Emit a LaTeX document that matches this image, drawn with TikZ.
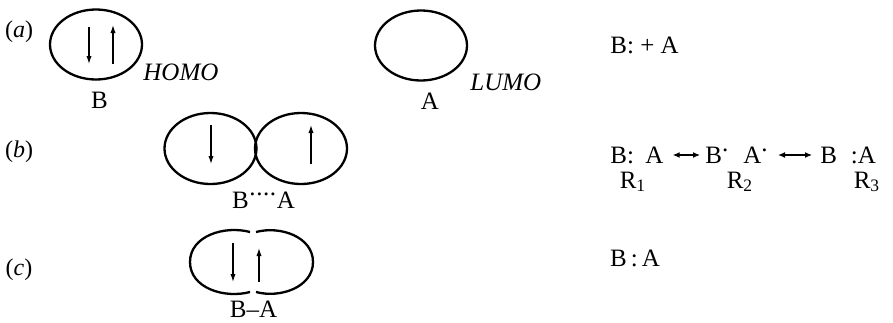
\documentclass[tikz,border=0pt]{standalone}
\usepackage{fontspec}
\setmainfont{Liberation Serif}
\usetikzlibrary{shapes.geometric,arrows.meta}
\begin{document}
\begin{tikzpicture}[x=0.5pt,y=-0.5pt,
  orb/.style={draw,ellipse,line width=1.15pt,minimum width=46pt,minimum height=35pt,inner sep=0},
  spin/.style={line width=0.6pt,-{Latex[length=4pt,width=2.6pt]}},
  txt/.style={font=\fontsize{12.5}{15}\selectfont,inner sep=0},
  lbl/.style={font=\fontsize{12}{14}\selectfont,inner sep=0},
  res/.style={line width=0.6pt,{Latex[length=3.5pt,width=3pt]}-{Latex[length=3.5pt,width=3pt]}}]
\useasboundingbox (0,0) rectangle (893,322);
% (a)
\node[lbl] (la) at (19,32) {(\textit{a})};
\node[orb] (homo) at (96,44.5) {};
\draw[spin] (89,27) -- (89,64);
\draw[spin] (113,64) -- (113,25);
\node[txt,anchor=west] (homolbl) at (143,72) {\textit{HOMO}};
\node[txt] (B) at (99.5,100) {B};
\node[orb] (lumo) at (421,45.5) {};
\node[txt,anchor=west] (lumolbl) at (470,82) {\textit{LUMO}};
\node[txt] (A) at (430,101.5) {A};
\node[txt,anchor=west] (eqa) at (610,45) {B: + A};
% (b)
\node[lbl] (lb) at (19,152) {(\textit{b})};
\node[orb,minimum height=35.5pt] (bl) at (210.5,148.5) {};
\node[orb,minimum height=35.5pt] (br) at (301,148.5) {};
\draw[spin] (211,125) -- (211,164);
\draw[spin] (311,164) -- (311,125);
\node[txt] (BA) at (263.5,200) {B\raisebox{0.5em}{\kern0.3pt.\kern0.3pt.\kern0.3pt.\kern0.3pt.\kern0.3pt}A};
\node[txt,anchor=west] (r1) at (610,155) {B:\hspace{0.45em}A};
\node[txt,anchor=west] (r2) at (705,155) {B\raisebox{0.45em}{.}\hspace{0.6em}A\raisebox{0.45em}{.}};
\node[txt,anchor=west] (r3) at (820,155) {B\hspace{0.55em}:A};
\draw[res] ([xshift=4.5pt]r1.east) -- ([xshift=-2.5pt]r2.west);
\draw[res] ([xshift=5pt]r2.east) -- ([xshift=-4pt]r3.west);
\node[txt] (R1) at (633,182) {R\textsubscript{1}};
\node[txt] (R2) at (740,182) {R\textsubscript{2}};
\node[txt] (R3) at (867,182) {R\textsubscript{3}};
% (c)
\node[lbl] (lc) at (19,270) {(\textit{c})};
\draw[line width=1.15pt] (250,232) to[out=165,in=90] (190,262) to[out=-90,in=195] (250,292);
\draw[line width=1.15pt] (256,232) to[out=15,in=90] (313,262) to[out=-90,in=-15] (256,292);
\draw[spin] (233,243) -- (233,282);
\draw[spin] (259,282) -- (259,248);
\node[txt] (BmA) at (253.5,309) {B--A};
\node[txt] (bc) at (635,258) {B\,:\,A};
\end{tikzpicture}
\end{document}
